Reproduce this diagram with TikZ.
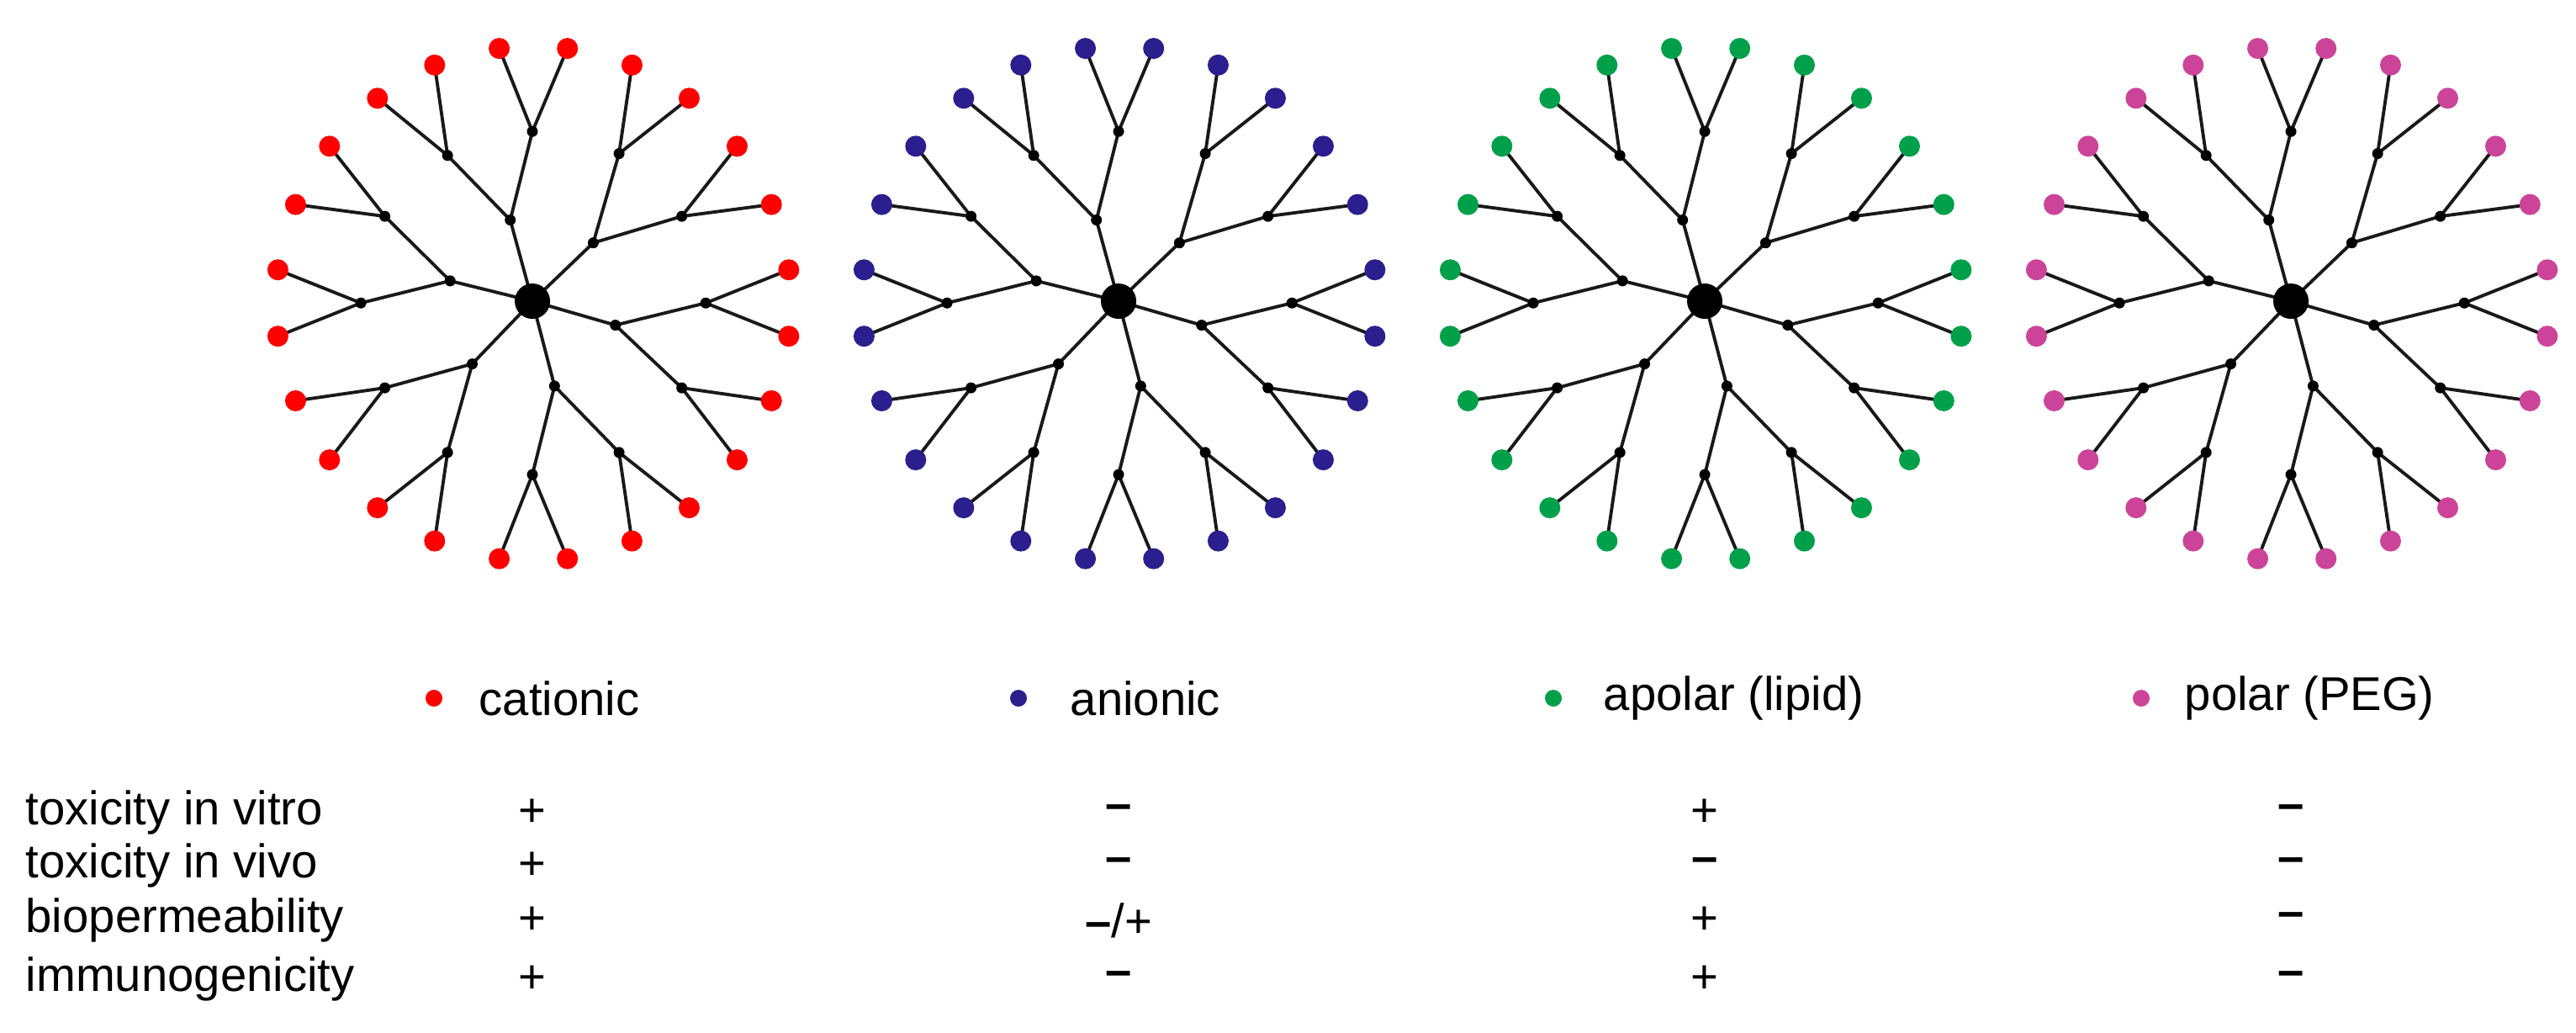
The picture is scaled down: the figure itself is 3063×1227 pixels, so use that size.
\documentclass[tikz,border=0pt]{standalone}
\usepackage{fontspec}
\setmainfont{Liberation Sans}
\usetikzlibrary{backgrounds}
\definecolor{cred}{HTML}{FF0000}
\definecolor{cblue}{HTML}{2B1E8E}
\definecolor{cgreen}{HTML}{00A04A}
\definecolor{cpink}{HTML}{CC4499}
\tikzset{
  core/.style={circle,fill=black,inner sep=0pt,minimum size=0.42cm},
  gen/.style={circle,fill=black,inner sep=0pt,minimum size=0.13cm},
  term/.style={circle,fill=#1,inner sep=0pt,minimum size=0.25cm},
  bond/.style={line width=1.1pt,black!90},
  lab/.style={font=\fontsize{16}{18}\selectfont,anchor=west,inner sep=0pt},
  val/.style={font=\fontsize{16}{18}\selectfont,inner sep=0pt}
}
\newcommand{\dend}[3]{%
\begin{scope}[shift={(#2-333.3,358-337.7)},scale=0.4386]
  \node[core] (#1c) at (760,770) {};
  \foreach \n/\x/\y in {A/700/550,B/925/612,C/985/835,D/820/1000,E/597/940,F/537/715,
    A1/760/310,A2/530/375,B1/995/370,B2/1165/540,C1/1230/775,C2/1165/1005,
    D1/995/1180,D2/760/1240,E1/530/1180,E2/360/1005,F1/360/540,F2/295/775}
    \node[gen] (#1\n) at (\x,\y) {};
  \foreach \n/\x/\y in {A1a/670/85,A1b/855/85,A2a/495/130,A2b/340/220,
    B1a/1030/130,B1b/1185/220,B2a/1315/350,B2b/1408/508,
    C1a/1455/685,C1b/1455/865,C2a/1408/1040,C2b/1315/1200,
    D1a/1185/1330,D1b/1030/1420,D2a/855/1468,D2b/670/1468,
    E1a/495/1420,E1b/340/1330,E2a/118/1040,E2b/210/1200,
    F1a/210/350,F1b/118/508,F2a/70/685,F2b/70/865}
    \node[term=#3] (#1\n) at (\x,\y) {};
  \begin{pgfonlayer}{background}
  \foreach \g in {A,B,C,D,E,F}{
    \draw[bond] (#1c.center) -- (#1\g.center);
    \foreach \s in {1,2}{
      \draw[bond] (#1\g.center) -- (#1\g\s.center);
      \draw[bond] (#1\g\s a.center) -- (#1\g\s.center) -- (#1\g\s b.center);
    }}
  \end{pgfonlayer}
\end{scope}}
\begin{document}
\begin{tikzpicture}[x=0.01cm,y=-0.01cm]
\useasboundingbox (0,0) rectangle (3063,1227);
\dend{a}{633}{cred}
\dend{b}{1330}{cblue}
\dend{c}{2027}{cgreen}
\dend{d}{2724}{cpink}
% legend
\node[circle,fill=cred,inner sep=0pt,minimum size=0.2cm] (l1) at (516,830) {};
\node[lab] (t1) at (569,830) {cationic};
\node[circle,fill=cblue,inner sep=0pt,minimum size=0.2cm] (l2) at (1211,830) {};
\node[lab] (t2) at (1272,830) {anionic};
\node[circle,fill=cgreen,inner sep=0pt,minimum size=0.2cm] (l3) at (1847,830) {};
\node[lab] (t3) at (1906,830) {apolar (lipid)};
\node[circle,fill=cpink,inner sep=0pt,minimum size=0.2cm] (l4) at (2546,830) {};
\node[lab] (t4) at (2597,830) {polar (PEG)};
% table
\node[lab] (r1) at (30,966) {toxicity in vitro};
\node[lab] (r2) at (30,1029) {toxicity in vivo};
\node[lab] (r3) at (30,1094) {biopermeability};
\node[lab] (r4) at (30,1164) {immunogenicity};
\foreach \yy/\i in {966/1,1029/2,1094/3,1164/4} \node[val] (va\i) at (633,\yy) {+};
\node[val] (vb1) at (1330,966) {\textbf{–}};
\node[val] (vb2) at (1330,1029) {\textbf{–}};
\node[val] (vb3) at (1330,1094) {\textbf{–}/+};
\node[val] (vb4) at (1330,1164) {\textbf{–}};
\node[val] (vc1) at (2027,966) {+};
\node[val] (vc2) at (2027,1029) {\textbf{–}};
\node[val] (vc3) at (2027,1094) {+};
\node[val] (vc4) at (2027,1164) {+};
\foreach \yy/\i in {966/1,1029/2,1094/3,1164/4} \node[val] (vd\i) at (2724,\yy) {\textbf{–}};
\end{tikzpicture}
\end{document}
